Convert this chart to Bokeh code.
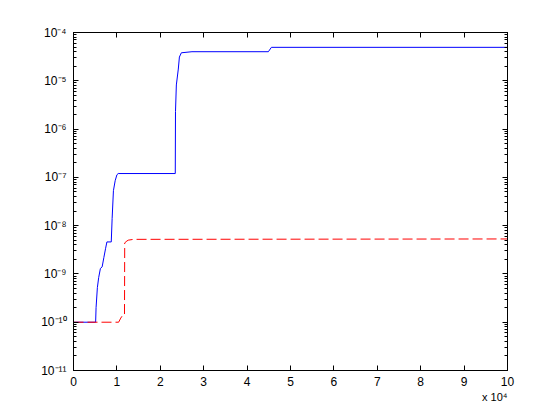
from bokeh.plotting import figure
from bokeh.models import FixedTicker, LinearAxis, LogAxis, Title, Range1d
from bokeh.embed import file_html
from bokeh.resources import INLINE

# ---- data ----
blue_x = [0, 5100, 5200, 5500, 5800, 6200, 6600, 7000, 7400, 7700, 8700, 8900,
          9200, 9600, 10000, 10300, 23450, 23500, 23700, 24150, 24400, 24850,
          27300, 44900, 45600, 100000]
blue_y = [1.0e-10, 1.0e-10, 2.0e-10, 5.2e-10, 8.4e-10, 1.3e-9, 1.4e-9, 2.2e-9,
          3.4e-9, 4.6e-9, 4.6e-9, 1.4e-8, 5.3e-8, 8.5e-8, 1.13e-7, 1.2e-7,
          1.2e-7, 2.3e-6, 8.2e-6, 1.75e-5, 3.1e-5, 3.8e-5, 4.0e-5, 4.0e-5,
          4.93e-5, 4.93e-5]
red_x = [0, 10400, 10900, 11200, 11500, 11750, 11800, 12300, 12600, 13800, 100000]
red_y = [1.0e-10, 1.0e-10, 1.22e-10, 1.34e-10, 1.4e-10, 1.4e-10, 4.4e-9,
         4.8e-9, 5.0e-9, 5.2e-9, 5.3e-9]

x_ticks = [0, 10000, 20000, 30000, 40000, 50000, 60000, 70000, 80000, 90000, 100000]
x_tick_labels = ["0", "1", "2", "3", "4", "5", "6", "7", "8", "9", "10"]
y_ticks = [1e-11, 1e-10, 1e-9, 1e-8, 1e-7, 1e-6, 1e-5, 1e-4]
y_tick_labels = ["10⁻¹¹", "10⁻¹⁰", "10⁻⁹", "10⁻⁸", "10⁻⁷", "10⁻⁶", "10⁻⁵", "10⁻⁴"]
y_minor = [m * d for d in [1e-11, 1e-10, 1e-9, 1e-8, 1e-7, 1e-6, 1e-5] for m in range(2, 10)]
x_multiplier_text = "x 10⁴"

FONT = "Liberation Sans"

p = figure(width=544, height=404, y_axis_type="log",
           x_range=Range1d(0, 100000), y_range=Range1d(1e-11, 1e-4),
           output_backend="svg", toolbar_location=None,
           min_border_left=73, min_border_right=37,
           min_border_top=32, min_border_bottom=34)
p.xgrid.visible = False
p.ygrid.visible = False
p.outline_line_color = "black"
p.background_fill_color = "white"
p.border_fill_color = "white"

xt = FixedTicker(ticks=x_ticks, minor_ticks=[])
yt = FixedTicker(ticks=y_ticks, minor_ticks=y_minor)

def style(ax, labels=True):
    ax.axis_line_color = "black"
    ax.major_tick_line_color = "black"
    ax.minor_tick_line_color = "black"
    ax.major_tick_in = 5
    ax.major_tick_out = 0
    ax.minor_tick_in = 3
    ax.minor_tick_out = 0
    ax.major_label_text_font = FONT
    ax.major_label_text_font_size = "12px"
    ax.major_label_text_color = "black" if labels else None

xa = p.xaxis[0]
xa.ticker = xt
xa.major_label_overrides = {t: s for t, s in zip(x_ticks, x_tick_labels)}
xa.major_label_standoff = 6
style(xa)

ya = p.yaxis[0]
ya.ticker = yt
ya.major_label_overrides = {t: s for t, s in zip(y_ticks, y_tick_labels)}
ya.major_label_standoff = 7
style(ya)

top = LinearAxis(ticker=xt)
style(top, labels=False)
top.major_label_text_font_size = "1px"
p.add_layout(top, "above")

right = LogAxis(ticker=yt)
style(right, labels=False)
right.major_label_text_font_size = "1px"
p.add_layout(right, "right")

p.line(blue_x, blue_y, line_color="#0000ff", line_width=1)
p.line(red_x, red_y, line_color="#ff0000", line_width=1, line_dash="10 4")

mult = Title(text=x_multiplier_text, align="right", text_font=FONT,
             text_font_size="11px", text_font_style="normal",
             text_color="black", standoff=0, offset=0)
p.add_layout(mult, "below")

open("out.html", "w").write(file_html(p, INLINE))
